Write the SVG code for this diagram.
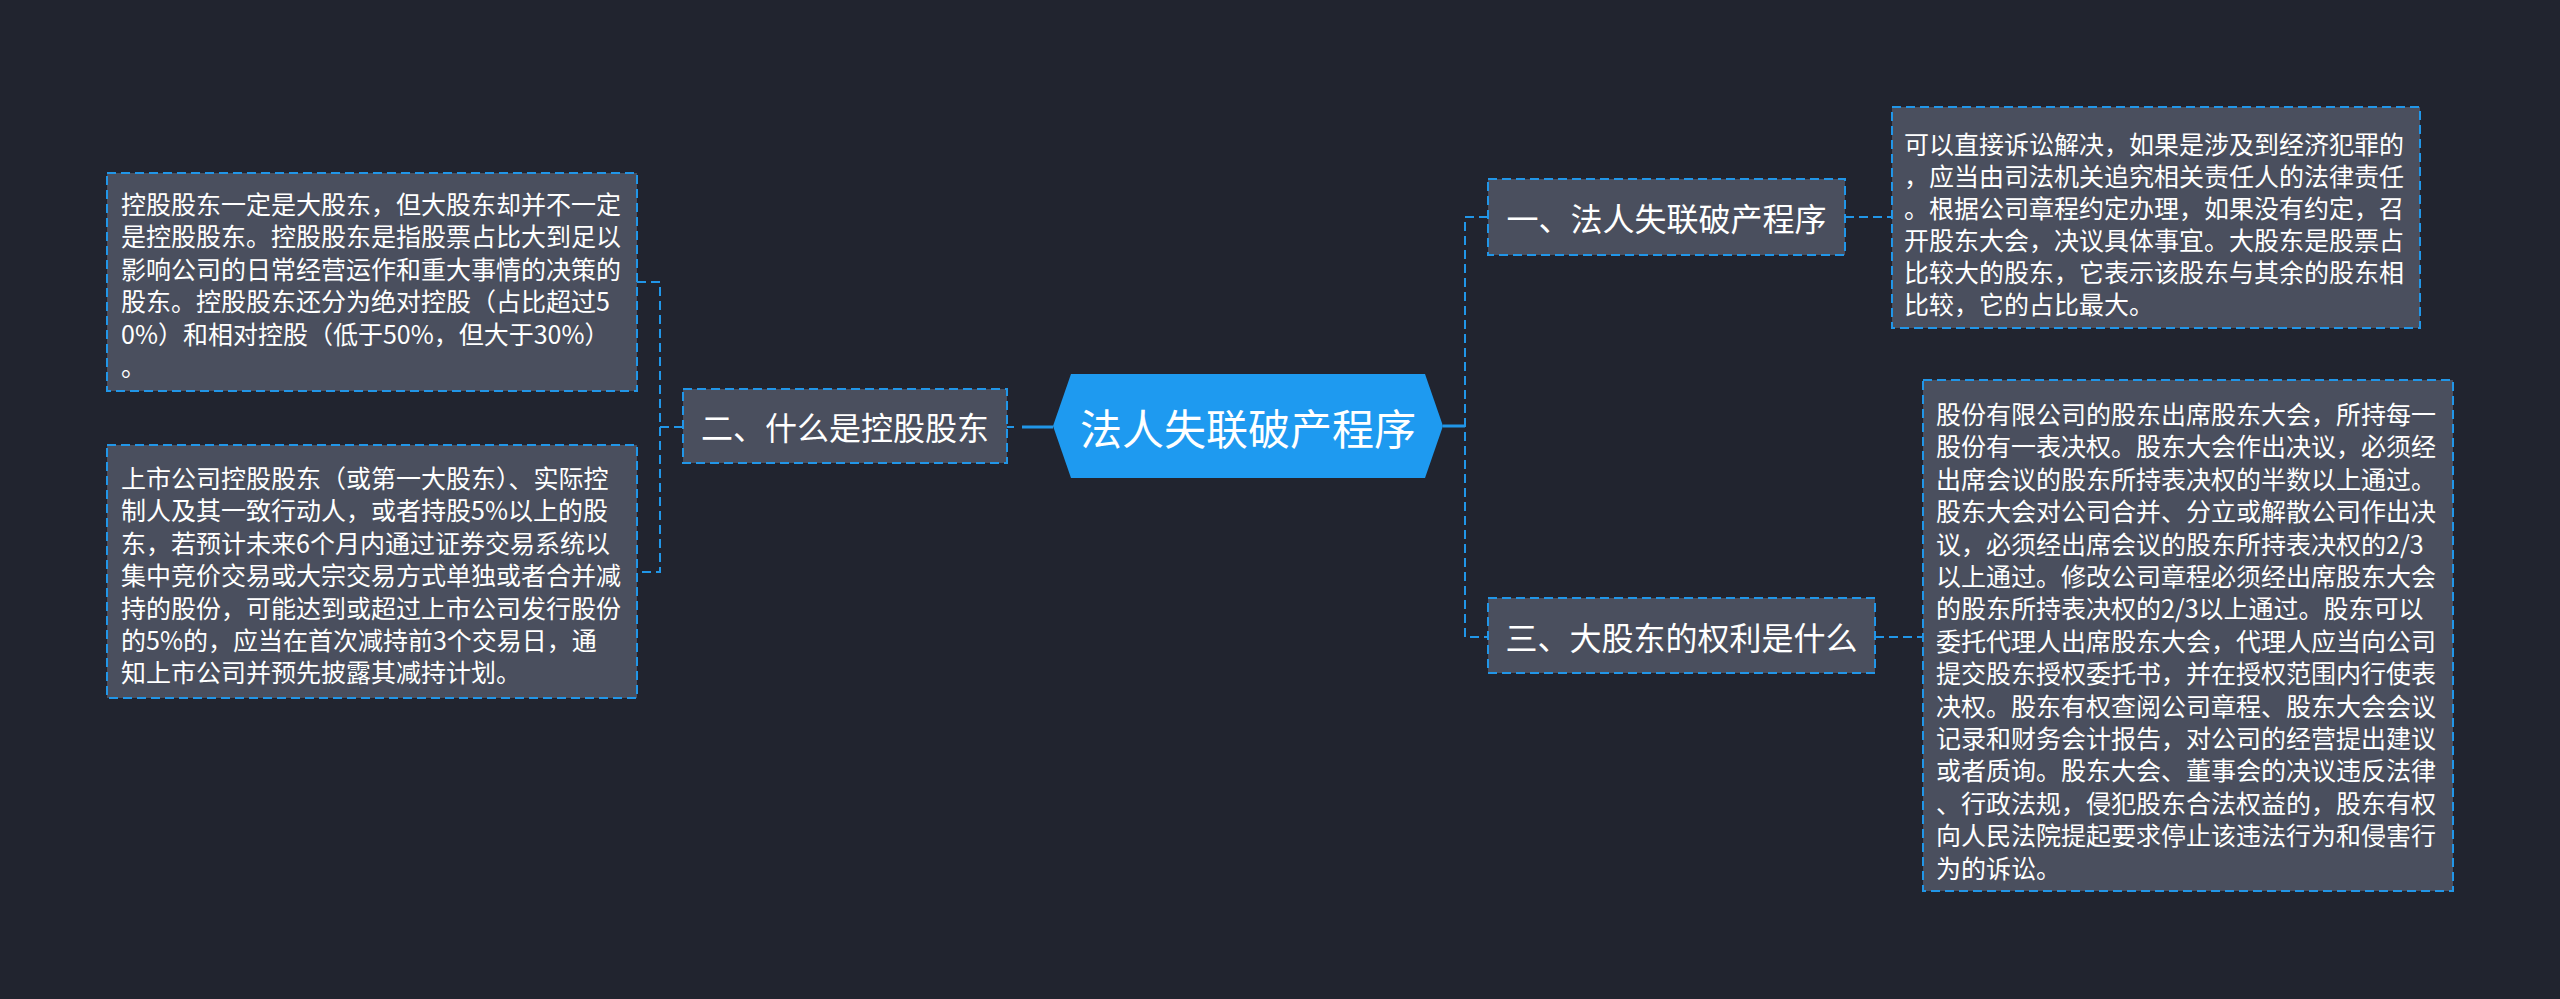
<svg xmlns="http://www.w3.org/2000/svg" width="2560" height="999" viewBox="0 0 2560 999">
<style>
.bg{fill:#21242f}
.box{fill:#4a4f5e;stroke:#2196e8;stroke-width:2;stroke-dasharray:9 5}
.t{font-family:"Noto Sans CJK SC","Noto Sans",sans-serif;fill:#ffffff;dominant-baseline:central}
.body{font-size:25px}
.lbl{font-size:32px;text-anchor:middle}
.main{font-size:42px;text-anchor:middle}
.dash{fill:none;stroke:#2196e8;stroke-width:2;stroke-dasharray:9 5}
.solid{fill:none;stroke:#2196e8;stroke-width:3}
</style>
<rect class="bg" x="0" y="0" width="2560" height="999"/>
<g id="connectors">
<path class="dash" d="M637 282 H660 V572 H637"/>
<path class="dash" d="M660 427 H683"/>
<path class="dash" d="M1007 427 H1014"/>
<path class="solid" d="M1022 427 H1053"/>
<path class="solid" d="M1443 426 H1465"/>
<path class="dash" d="M1488 217 H1465 V637 H1488"/>
<path class="dash" d="M1845 217 H1892"/>
<path class="dash" d="M1875 637 H1923"/>
</g>
<g id="center">
<polygon points="1053,426 1071,374 1425,374 1443,426 1425,478 1071,478" fill="#1e9af0"/>
<text class="t main" x="1248" y="426">法人失联破产程序</text>
</g>
<g id="n2">
<rect class="box" x="683" y="389" width="324" height="74"/>
<text class="t lbl" x="845" y="426">二、什么是控股股东</text>
</g>
<g id="n2a">
<rect class="box" x="107" y="173" width="530" height="218"/>
<text class="t body" x="121"><tspan x="121" y="203">控股股东一定是大股东，但大股东却并不一定</tspan><tspan x="121" y="235.4">是控股股东。控股股东是指股票占比大到足以</tspan><tspan x="121" y="267.8">影响公司的日常经营运作和重大事情的决策的</tspan><tspan x="121" y="300.2">股东。控股股东还分为绝对控股（占比超过5</tspan><tspan x="121" y="332.6">0%）和相对控股（低于50%，但大于30%）</tspan><tspan x="121" y="365">。</tspan></text>
</g>
<g id="n2b">
<rect class="box" x="107" y="445" width="530" height="253"/>
<text class="t body" x="121"><tspan x="121" y="477">上市公司控股股东（或第一大股东）、实际控</tspan><tspan x="121" y="509.4">制人及其一致行动人，或者持股5%以上的股</tspan><tspan x="121" y="541.8">东，若预计未来6个月内通过证券交易系统以</tspan><tspan x="121" y="574.2">集中竞价交易或大宗交易方式单独或者合并减</tspan><tspan x="121" y="606.6">持的股份，可能达到或超过上市公司发行股份</tspan><tspan x="121" y="639">的5%的，应当在首次减持前3个交易日，通</tspan><tspan x="121" y="671.4">知上市公司并预先披露其减持计划。</tspan></text>
</g>
<g id="n1">
<rect class="box" x="1488" y="179" width="357" height="76"/>
<text class="t lbl" x="1666.5" y="217">一、法人失联破产程序</text>
</g>
<g id="n1a">
<rect class="box" x="1892" y="107" width="528" height="221"/>
<text class="t body" x="1904"><tspan x="1904" y="143">可以直接诉讼解决，如果是涉及到经济犯罪的</tspan><tspan x="1904" y="175">，应当由司法机关追究相关责任人的法律责任</tspan><tspan x="1904" y="207">。根据公司章程约定办理，如果没有约定，召</tspan><tspan x="1904" y="239">开股东大会，决议具体事宜。大股东是股票占</tspan><tspan x="1904" y="271">比较大的股东，它表示该股东与其余的股东相</tspan><tspan x="1904" y="303">比较，它的占比最大。</tspan></text>
</g>
<g id="n3">
<rect class="box" x="1488" y="598" width="387" height="75"/>
<text class="t lbl" x="1681.5" y="636">三、大股东的权利是什么</text>
</g>
<g id="n3a">
<rect class="box" x="1923" y="380" width="530" height="511"/>
<text class="t body" x="1936"><tspan x="1936" y="413">股份有限公司的股东出席股东大会，所持每一</tspan><tspan x="1936" y="445.4">股份有一表决权。股东大会作出决议，必须经</tspan><tspan x="1936" y="477.8">出席会议的股东所持表决权的半数以上通过。</tspan><tspan x="1936" y="510.2">股东大会对公司合并、分立或解散公司作出决</tspan><tspan x="1936" y="542.6">议，必须经出席会议的股东所持表决权的2/3</tspan><tspan x="1936" y="575">以上通过。修改公司章程必须经出席股东大会</tspan><tspan x="1936" y="607.4">的股东所持表决权的2/3以上通过。股东可以</tspan><tspan x="1936" y="639.8">委托代理人出席股东大会，代理人应当向公司</tspan><tspan x="1936" y="672.2">提交股东授权委托书，并在授权范围内行使表</tspan><tspan x="1936" y="704.6">决权。股东有权查阅公司章程、股东大会会议</tspan><tspan x="1936" y="737">记录和财务会计报告，对公司的经营提出建议</tspan><tspan x="1936" y="769.4">或者质询。股东大会、董事会的决议违反法律</tspan><tspan x="1936" y="801.8">、行政法规，侵犯股东合法权益的，股东有权</tspan><tspan x="1936" y="834.2">向人民法院提起要求停止该违法行为和侵害行</tspan><tspan x="1936" y="866.6">为的诉讼。</tspan></text>
</g>
</svg>
